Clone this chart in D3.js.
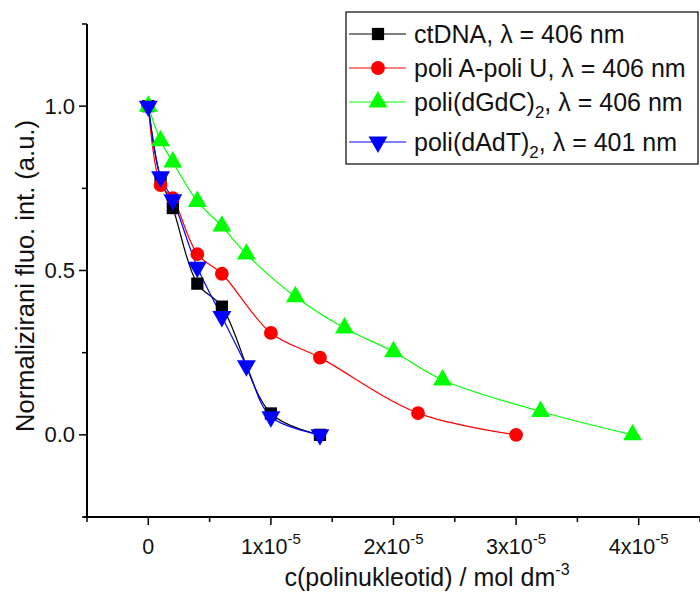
<!DOCTYPE html>
<html>
<head>
<meta charset="UTF-8">
<script src="https://d3js.org/d3.v7.min.js"></script>
<style>
  body { margin: 0; background: #fff; }
  text { font-family: Arial, "Liberation Sans", sans-serif; }
</style>
</head>
<body>
<script>
// concentration in units of 1e-5 mol dm-3, normalised intensity
const ctX = [0, 0.1, 0.2, 0.4, 0.6, 1.0, 1.4];
const ctY = [1.0, 0.78, 0.69, 0.46, 0.39, 0.065, 0.0];
const auX = [0, 0.1, 0.2, 0.4, 0.6, 1.0, 1.4, 2.2, 3.0];
const auY = [1.0, 0.76, 0.72, 0.55, 0.49, 0.31, 0.235, 0.066, 0.0];
const gcX = [0, 0.1, 0.2, 0.4, 0.6, 0.8, 1.2, 1.6, 2.0, 2.4, 3.2, 3.95];
const gcY = [1.0, 0.895, 0.83, 0.71, 0.635, 0.55, 0.42, 0.325, 0.253, 0.167, 0.071, 0.0];
const atX = [0, 0.1, 0.2, 0.4, 0.6, 0.8, 1.0, 1.4];
const atY = [1.0, 0.785, 0.715, 0.51, 0.36, 0.21, 0.055, 0.0];

const xMajor = [0, 1, 2, 3, 4];
const yMajor = [0, 0.5, 1.0];
const yLabels = ["0.0", "0.5", "1.0"];

const series = [
  {name: "ctDNA", sub: null, lam: "406", xs: ctX, ys: ctY, color: "#000000", sym: "square"},
  {name: "poli A-poli U", sub: null, lam: "406", xs: auX, ys: auY, color: "#ff0000", sym: "circle"},
  {name: "poli(dGdC)", sub: "2", lam: "406", xs: gcX, ys: gcY, color: "#00ff00", sym: "up"},
  {name: "poli(dAdT)", sub: "2", lam: "401", xs: atX, ys: atY, color: "#0000ff", sym: "down"}
];

const W = 700, H = 594;
const svg = d3.select("body").append("svg")
  .attr("width", W).attr("height", H);

const x = d3.scaleLinear().domain([-0.5, 4.5]).range([87, 700]);
const y = d3.scaleLinear().domain([-0.25, 1.25]).range([517, 24]);

// x axis
const gx = svg.append("g").attr("transform", "translate(0," + y(-0.25) + ")");
gx.append("line").attr("x1", 84).attr("x2", 700).attr("stroke", "#000").attr("stroke-width", 2);
gx.selectAll(".mn").data(d3.range(-0.5, 4.6, 1)).enter().append("line")
  .attr("x1", d => x(d)).attr("x2", d => x(d)).attr("y1", 0).attr("y2", 5)
  .attr("stroke", "#000").attr("stroke-width", 1.5);
gx.selectAll(".mj").data(xMajor).enter().append("line")
  .attr("x1", d => x(d)).attr("x2", d => x(d)).attr("y1", 0).attr("y2", 8)
  .attr("stroke", "#000").attr("stroke-width", 1.5);
const xl = gx.selectAll(".xl").data(xMajor).enter().append("text")
  .attr("x", d => x(d)).attr("y", 37).attr("text-anchor", "middle")
  .attr("font-size", 21.5).attr("fill", "#111");
xl.each(function(d) {
  const t = d3.select(this);
  if (d === 0) { t.text("0"); return; }
  t.append("tspan").text(d + "x10");
  t.append("tspan").attr("dy", -10).attr("font-size", 15).text("-5");
});

// y axis
const gy = svg.append("g").attr("transform", "translate(" + x(-0.5) + ",0)");
gy.append("line").attr("y1", y(1.25)).attr("y2", y(-0.25) + 1).attr("stroke", "#000").attr("stroke-width", 2);
gy.selectAll(".mn").data([-0.25, 0.25, 0.75, 1.25]).enter().append("line")
  .attr("y1", d => y(d)).attr("y2", d => y(d)).attr("x1", 0).attr("x2", -5)
  .attr("stroke", "#000").attr("stroke-width", 1.5);
gy.selectAll(".mj").data(yMajor).enter().append("line")
  .attr("y1", d => y(d)).attr("y2", d => y(d)).attr("x1", 0).attr("x2", -8)
  .attr("stroke", "#000").attr("stroke-width", 1.5);
gy.selectAll(".yl").data(yMajor).enter().append("text")
  .attr("x", -12).attr("y", d => y(d) + 7.5).attr("text-anchor", "end")
  .attr("font-size", 22).attr("fill", "#111")
  .text((d, i) => yLabels[i]);

// axis titles
const xt = svg.append("text").attr("x", 427).attr("y", 586).attr("text-anchor", "middle")
  .attr("font-size", 25).attr("fill", "#111");
xt.append("tspan").text("c(polinukleotid) / mol dm");
xt.append("tspan").attr("dy", -11).attr("font-size", 16).text("-3");

svg.append("text").attr("transform", "translate(34," + 276 + ") rotate(-90)")
  .attr("text-anchor", "middle").attr("font-size", 25.5).attr("fill", "#111")
  .text("Normalizirani fluo. int. (a.u.)");

// curves and markers
const line = d3.line().x(d => x(d[0])).y(d => y(d[1])).curve(d3.curveCatmullRom.alpha(0.5));
const symSize = {square: 150, circle: 150, up: 155, down: 155};
function symPath(sym) {
  if (sym === "square") return d3.symbol().type(d3.symbolSquare).size(symSize.square)();
  if (sym === "circle") return d3.symbol().type(d3.symbolCircle).size(symSize.circle)();
  return d3.symbol().type(d3.symbolTriangle).size(symSize[sym])();
}
function symTransform(sym, px, py) {
  return "translate(" + px + "," + py + ")" + (sym === "down" ? " rotate(180)" : "");
}

series.forEach(s => {
  const pts = s.xs.map((v, i) => [v, s.ys[i]]);
  svg.append("path").datum(pts).attr("d", line)
    .attr("fill", "none").attr("stroke", s.color).attr("stroke-width", 1.2);
});
series.forEach(s => {
  const pts = s.xs.map((v, i) => [v, s.ys[i]]);
  svg.append("g").selectAll("path").data(pts).enter().append("path")
    .attr("d", symPath(s.sym))
    .attr("transform", d => symTransform(s.sym, x(d[0]), y(d[1])))
    .attr("fill", s.color);
});

// legend
const lg = svg.append("g");
lg.append("rect").attr("x", 346).attr("y", 12).attr("width", 352).attr("height", 152)
  .attr("fill", "#fff").attr("stroke", "#000").attr("stroke-width", 1.2);
const rowY = [34, 68, 102, 142];
series.forEach((s, i) => {
  const g = lg.append("g").attr("transform", "translate(0," + rowY[i] + ")");
  g.append("line").attr("x1", 349).attr("x2", 406).attr("stroke", s.color).attr("stroke-width", 1.2);
  g.append("path").attr("d", symPath(s.sym)).attr("transform", symTransform(s.sym, 378, 0)).attr("fill", s.color);
  const t = g.append("text").attr("x", 414).attr("y", 8.5).attr("font-size", 25).attr("fill", "#111");
  t.append("tspan").text(s.name);
  if (s.sub) t.append("tspan").attr("dy", 7).attr("font-size", 17).text(s.sub);
  t.append("tspan").attr("dy", s.sub ? -7 : 0).text(", \u03bb = " + s.lam + " nm");
});
</script>
</body>
</html>
